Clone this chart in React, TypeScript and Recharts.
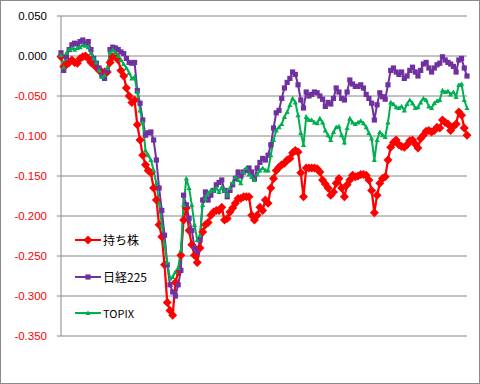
import React from 'react';
import { LineChart, Line, XAxis, YAxis, CartesianGrid, Legend } from 'recharts';

const seriesNames = ['持ち株', '日経225', 'TOPIX'];

const holdings = [
  -0.001, -0.013, -0.011, -0.008, -0.005, -0.008, -0.009, -0.003, -0.001, 0.000,
  -0.003, -0.008, -0.011, -0.014, -0.018, -0.020, -0.020, -0.020, -0.008, -0.001,
  0.001, -0.005, -0.018, -0.025, -0.040, -0.050, -0.058, -0.055, -0.086, -0.105,
  -0.124, -0.136, -0.143, -0.146, -0.165, -0.180, -0.211, -0.226, -0.261, -0.308,
  -0.318, -0.324, -0.283, -0.270, -0.249, -0.205, -0.190, -0.218, -0.236, -0.249,
  -0.258, -0.240, -0.220, -0.211, -0.208, -0.199, -0.195, -0.193, -0.193, -0.189,
  -0.205, -0.203, -0.195, -0.190, -0.184, -0.178, -0.178, -0.176, -0.176, -0.176,
  -0.199, -0.205, -0.199, -0.189, -0.193, -0.180, -0.184, -0.165, -0.153, -0.143,
  -0.139, -0.136, -0.134, -0.130, -0.128, -0.121, -0.118, -0.120, -0.146, -0.176,
  -0.140, -0.140, -0.140, -0.140, -0.141, -0.145, -0.155, -0.160, -0.165, -0.174,
  -0.170, -0.159, -0.153, -0.165, -0.176, -0.161, -0.155, -0.149, -0.151, -0.150,
  -0.148, -0.148, -0.149, -0.155, -0.168, -0.196, -0.174, -0.159, -0.153, -0.151,
  -0.130, -0.114, -0.108, -0.105, -0.111, -0.113, -0.114, -0.111, -0.106, -0.105,
  -0.110, -0.115, -0.103, -0.099, -0.094, -0.093, -0.095, -0.093, -0.089, -0.090,
  -0.080, -0.083, -0.085, -0.093, -0.088, -0.085, -0.070, -0.074, -0.090, -0.099,
];

const nikkei225 = [
  0.004, -0.018, -0.001, 0.008, 0.014, 0.016, 0.015, 0.018, 0.020, 0.016,
  0.018, 0.008, -0.003, -0.009, -0.015, -0.024, -0.028, -0.018, 0.008, 0.011,
  0.010, 0.008, 0.005, 0.003, -0.003, -0.008, -0.009, -0.008, -0.043, -0.059,
  -0.080, -0.099, -0.096, -0.095, -0.105, -0.130, -0.165, -0.193, -0.224, -0.261,
  -0.286, -0.295, -0.300, -0.286, -0.268, -0.174, -0.186, -0.203, -0.218, -0.240,
  -0.245, -0.230, -0.180, -0.170, -0.180, -0.174, -0.168, -0.161, -0.158, -0.155,
  -0.168, -0.176, -0.168, -0.161, -0.153, -0.145, -0.150, -0.145, -0.143, -0.140,
  -0.145, -0.153, -0.140, -0.133, -0.128, -0.130, -0.124, -0.111, -0.090, -0.071,
  -0.068, -0.053, -0.040, -0.033, -0.028, -0.020, -0.023, -0.036, -0.055, -0.065,
  -0.045, -0.050, -0.048, -0.045, -0.046, -0.050, -0.054, -0.063, -0.058, -0.060,
  -0.053, -0.040, -0.045, -0.053, -0.055, -0.045, -0.030, -0.035, -0.038, -0.038,
  -0.036, -0.040, -0.048, -0.053, -0.059, -0.080, -0.061, -0.046, -0.051, -0.054,
  -0.036, -0.018, -0.015, -0.020, -0.023, -0.020, -0.028, -0.025, -0.018, -0.014,
  -0.020, -0.025, -0.018, -0.010, -0.008, -0.015, -0.020, -0.015, -0.011, -0.009,
  -0.001, -0.005, -0.008, -0.010, -0.013, -0.020, -0.005, -0.003, -0.015, -0.025,
];

const topix = [
  0.001, -0.014, 0.004, 0.008, 0.010, 0.008, 0.010, 0.011, 0.014, 0.013,
  0.011, 0.004, -0.003, -0.008, -0.018, -0.026, -0.024, -0.015, 0.005, 0.008,
  0.004, 0.000, -0.005, -0.010, -0.015, -0.021, -0.028, -0.026, -0.045, -0.068,
  -0.083, -0.118, -0.124, -0.130, -0.143, -0.159, -0.184, -0.211, -0.236, -0.258,
  -0.278, -0.276, -0.270, -0.265, -0.243, -0.186, -0.153, -0.165, -0.186, -0.211,
  -0.230, -0.224, -0.186, -0.178, -0.171, -0.168, -0.168, -0.165, -0.170, -0.164,
  -0.168, -0.174, -0.165, -0.158, -0.151, -0.155, -0.159, -0.145, -0.140, -0.148,
  -0.151, -0.155, -0.148, -0.143, -0.140, -0.143, -0.143, -0.124, -0.105, -0.093,
  -0.089, -0.085, -0.076, -0.070, -0.061, -0.053, -0.058, -0.074, -0.096, -0.111,
  -0.076, -0.080, -0.080, -0.083, -0.084, -0.078, -0.083, -0.093, -0.099, -0.105,
  -0.095, -0.089, -0.088, -0.099, -0.108, -0.090, -0.078, -0.083, -0.085, -0.083,
  -0.081, -0.084, -0.089, -0.096, -0.103, -0.130, -0.105, -0.095, -0.099, -0.101,
  -0.083, -0.058, -0.060, -0.064, -0.065, -0.063, -0.068, -0.060, -0.055, -0.059,
  -0.065, -0.064, -0.058, -0.053, -0.055, -0.063, -0.065, -0.059, -0.056, -0.055,
  -0.043, -0.045, -0.044, -0.048, -0.045, -0.051, -0.036, -0.035, -0.055, -0.065,
];

const yTicks = [0.05, 0, -0.05, -0.1, -0.15, -0.2, -0.25, -0.3, -0.35];

const data = holdings.map((v, i) => ({ idx: i, h: v, n: nikkei225[i], t: topix[i] }));

const RED = '#FF0000';
const PURPLE = '#7030A0';
const GREEN = '#00B050';

const diamondPath = (cx: number, cy: number, r: number) =>
  `M${cx},${cy - r}L${cx + r},${cy}L${cx},${cy + r}L${cx - r},${cy}Z`;
const squarePath = (cx: number, cy: number, r: number) =>
  `M${cx - r},${cy - r}L${cx + r},${cy - r}L${cx + r},${cy + r}L${cx - r},${cy + r}Z`;
const trianglePath = (cx: number, cy: number, r: number) =>
  `M${cx},${cy - r}L${cx + r},${cy + r * 0.8}L${cx - r},${cy + r * 0.8}Z`;

const makeDot = (kind: 'd' | 's' | 't', color: string) => (p: any) => {
  const { cx, cy, index } = p;
  if (cx == null || cy == null) return <g key={`${kind}-${index}`} />;
  const d =
    kind === 'd' ? diamondPath(cx, cy, 4.5) : kind === 's' ? squarePath(cx, cy, 2.6) : trianglePath(cx, cy, 2.6);
  return <path key={`${kind}-${index}`} d={d} fill={color} stroke="none" />;
};

const YTick = (props: any) => {
  const { x, y, payload } = props;
  const v = Number(payload.value);
  const neg = v < -1e-9;
  return (
    <g>
      <text
        x={x}
        y={y}
        dy={4}
        textAnchor="end"
        style={{ fill: neg ? RED : '#000000' }}
        fontSize={11.5}
        fontFamily="'Liberation Sans', Arial, sans-serif"
      >
        {(neg || v > 1e-9 ? v : 0).toFixed(3)}
      </text>
    </g>
  );
};

const legendItems = [
  { name: seriesNames[0], color: RED, kind: 'd' as const, size: 12 },
  { name: seriesNames[1], color: PURPLE, kind: 's' as const, size: 12 },
  { name: seriesNames[2], color: GREEN, kind: 't' as const, size: 11 },
];

const renderLegend = () => (
  <div>
    {legendItems.map((it) => (
      <div key={it.name} style={{ height: 36.5, display: 'flex', alignItems: 'center' }}>
        <svg width={28} height={12} style={{ display: 'block' }}>
          <line x1={0} y1={6} x2={26} y2={6} stroke={it.color} strokeWidth={2} />
          <path
            d={
              it.kind === 'd'
                ? diamondPath(13, 6, 4.5)
                : it.kind === 's'
                ? squarePath(13, 6, 2.6)
                : trianglePath(13, 6, 2.6)
            }
            fill={it.color}
          />
        </svg>
        <span
          style={{
            fontSize: it.size,
            fontFamily: "'Noto Sans CJK JP', 'Liberation Sans', sans-serif",
            color: '#000',
            lineHeight: '14px',
            whiteSpace: 'nowrap',
          }}
        >
          {it.name}
        </span>
      </div>
    ))}
  </div>
);

export default function App() {
  return (
    <div style={{ position: 'fixed', left: 0, top: 0, width: 480, height: 384, background: '#fff' }}>
      <LineChart width={480} height={384} data={data} margin={{ top: 16, right: 13, bottom: 48, left: 0 }}>
        <CartesianGrid vertical={false} stroke="#868686" strokeWidth={1} />
        <XAxis dataKey="idx" hide />
        <YAxis
          width={61}
          domain={[-0.35, 0.05]}
          ticks={yTicks}
          interval={0}
          tickSize={4}
          tickMargin={10}
          tick={YTick}
          axisLine={{ stroke: '#868686' }}
          tickLine={{ stroke: '#868686' }}
          allowDataOverflow
        />
        <Legend
          layout="horizontal"
          verticalAlign="middle"
          align="center"
          content={renderLegend}
          wrapperStyle={{ position: 'absolute', left: 75, top: 222, width: 110, height: 110 }}
        />
        <Line
          dataKey="h"
          name={seriesNames[0]}
          stroke={RED}
          strokeWidth={2.25}
          dot={makeDot('d', RED)}
          activeDot={false}
          isAnimationActive={false}
        />
        <Line
          dataKey="n"
          name={seriesNames[1]}
          stroke={PURPLE}
          strokeWidth={2}
          dot={makeDot('s', PURPLE)}
          activeDot={false}
          isAnimationActive={false}
        />
        <Line
          dataKey="t"
          name={seriesNames[2]}
          stroke={GREEN}
          strokeWidth={2}
          dot={makeDot('t', GREEN)}
          activeDot={false}
          isAnimationActive={false}
        />
      </LineChart>
      <div
        style={{
          position: 'absolute',
          left: 0,
          top: 0,
          width: 480,
          height: 384,
          boxSizing: 'border-box',
          border: '1px solid #8a8a8a',
          pointerEvents: 'none',
        }}
      />
    </div>
  );
}
